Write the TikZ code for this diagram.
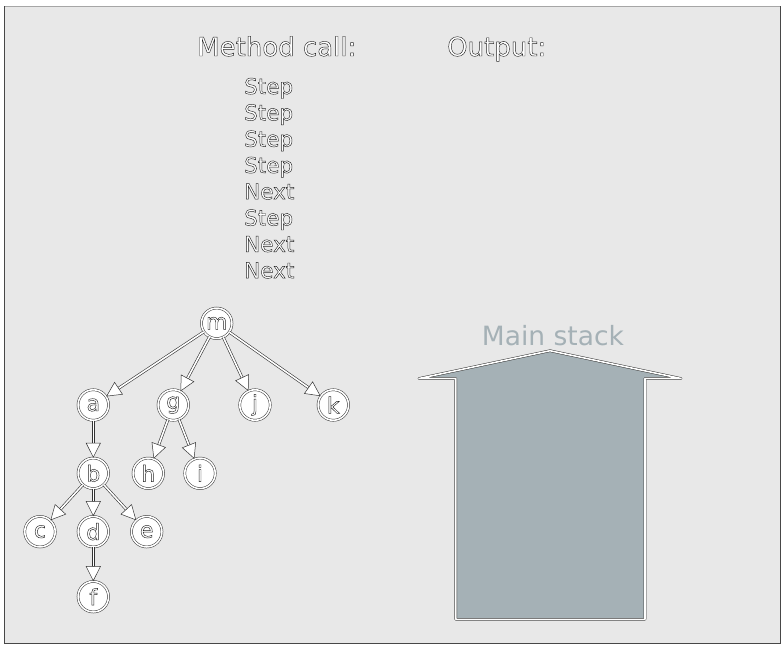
\documentclass[tikz,border=0pt]{standalone}
\usepackage{fontspec}
\setmainfont{DejaVu Sans}
\usetikzlibrary{arrows.meta}
\definecolor{bg}{HTML}{E8E8E8}
\definecolor{dk}{HTML}{333333}
\definecolor{stack}{HTML}{A5B1B6}
\newcommand\hollow[1]{\special{pdf:literal direct 2 Tr 0.45 w 0.15 0.15 0.15 RG}#1\special{pdf:literal direct 0 Tr}}
\tikzset{
  title/.style={anchor=base west, inner sep=0pt, text=white, font=\fontsize{26}{30}\selectfont},
  call/.style={anchor=base west, inner sep=0pt, text=white, font=\fontsize{21.5}{24}\selectfont},
  tnode/.style={circle, draw=dk, line width=0.5pt, double=white, double distance=1.6pt, fill=white, minimum size=30.5pt, inner sep=0pt, text=white, font=\fontsize{22}{24}\selectfont},
  tedge/.style={draw=white, line width=1.6pt, -{Triangle[length=15pt, width=15pt, color=dk, fill=white, line width=0.5pt]}, preaction={draw=dk, line width=2.8pt, arrows=-, shorten >=14pt}},
  stackshape/.style={draw=dk, line width=0.5pt, double=white, double distance=1.6pt, fill=stack, line join=round}
}
\begin{document}
\begin{tikzpicture}[x=1pt, y=-1pt]
\useasboundingbox (0,0) rectangle (784,648);
\fill[white] (0,0) rectangle (784,648);
\fill[bg] (4,6) rectangle (780,643);
\draw[gray!70, line width=1pt] (4,6) -- (780,6);
\draw[dk!90, line width=1pt] (4,6) -- (4,643) -- (780,643) -- (780,6);
% titles
\node[title] (mc) at (197,56) {\hollow{Method call:}};
\node[title] (out) at (447,56) {\hollow{Output:}};
% calls
\node[call] (c1) at (244,94) {\hollow{Step}};
\node[call] (c2) at (244,120.3) {\hollow{Step}};
\node[call] (c3) at (244,146.6) {\hollow{Step}};
\node[call] (c4) at (244,172.9) {\hollow{Step}};
\node[call] (c5) at (244,199.2) {\hollow{Next}};
\node[call] (c6) at (244,225.5) {\hollow{Step}};
\node[call] (c7) at (244,251.8) {\hollow{Next}};
\node[call] (c8) at (244,278.1) {\hollow{Next}};
% tree
\node[tnode] (m) at (216.7,323.3) {\hollow{m}};
\node[tnode] (a) at (93.3,405) {\hollow{a}};
\node[tnode] (g) at (173.3,405) {\hollow{g}};
\node[tnode] (j) at (255,405) {\hollow{j}};
\node[tnode] (k) at (333.3,405) {\hollow{k}};
\node[tnode] (b) at (93.3,473.3) {\hollow{b}};
\node[tnode] (h) at (148.3,473.3) {\hollow{h}};
\node[tnode] (i) at (200,473.3) {\hollow{i}};
\node[tnode] (c) at (40,531.7) {\hollow{c}};
\node[tnode] (d) at (93.3,531.7) {\hollow{d}};
\node[tnode] (e) at (146.7,531.7) {\hollow{e}};
\node[tnode] (f) at (93.3,596.7) {\hollow{f}};
\foreach \s/\t in {m/a, m/g, m/j, m/k, a/b, g/h, g/i, b/c, b/d, b/e, d/f}
  \draw[tedge] (\s) -- (\t);
% main stack
\draw[stackshape] (455.7,378.5) -- (419,378.5) -- (550,350.7) -- (681,378.5) -- (645,378.5) -- (645,619.3) -- (455.7,619.3) -- cycle;
\node[anchor=base, inner sep=0pt, text=stack, font=\fontsize{26.5}{29}\selectfont] (ms) at (553,345) {Main stack};
\end{tikzpicture}
\end{document}
